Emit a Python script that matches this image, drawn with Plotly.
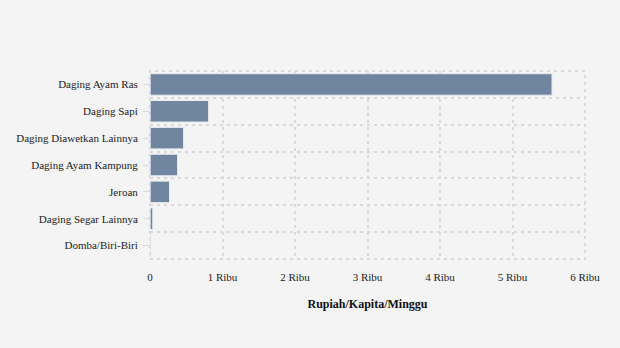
import plotly.graph_objects as go

categories = ["Daging Ayam Ras", "Daging Sapi", "Daging Diawetkan Lainnya",
              "Daging Ayam Kampung", "Jeroan", "Daging Segar Lainnya", "Domba/Biri-Biri"]
values = [5545, 808, 463, 380, 269, 38, 12]
tick_vals = [0, 1000, 2000, 3000, 4000, 5000, 6000]
tick_text = ["0", "1 Ribu", "2 Ribu", "3 Ribu", "4 Ribu", "5 Ribu", "6 Ribu"]
x_title = "Rupiah/Kapita/Minggu"

font_family = "Liberation Serif"
grid_color = "#dadada"
grid_dash = "3px,4px"

fig = go.Figure()
fig.add_trace(go.Bar(
    y=categories, x=values, orientation="h",
    marker=dict(color="#7085a0", line=dict(color="#e8ebef", width=1)),
    width=0.8, hoverinfo="x+y", showlegend=False,
))
# invisible helper trace providing boundary gridlines
fig.add_trace(go.Bar(
    y=categories, x=[0] * len(categories), orientation="h",
    yaxis="y2", marker=dict(color="rgba(0,0,0,0)"), hoverinfo="skip", showlegend=False,
))

fig.update_layout(
    width=620, height=348,
    paper_bgcolor="#f4f4f4", plot_bgcolor="#f4f4f4",
    margin=dict(l=150, r=35, t=71, b=89),
    font=dict(family=font_family, size=11, color="#222"),
    barmode="overlay",
    xaxis=dict(
        range=[0, 6000], tickvals=tick_vals, ticktext=tick_text,
        showgrid=True, gridcolor=grid_color, griddash=grid_dash, gridwidth=2,
        zeroline=False, showline=False, ticks="outside", ticklen=8,
        tickcolor="rgba(0,0,0,0)",
        tickfont=dict(family=font_family, size=11, color="#222"),
        title=dict(text="<b>" + x_title + "</b>", font=dict(family=font_family, size=12, color="#111"),
                   standoff=17),
        fixedrange=True,
    ),
    yaxis=dict(
        type="category", categoryorder="array", categoryarray=categories,
        autorange="reversed",
        showgrid=False, zeroline=False, showline=False,
        ticks="outside", ticklen=6, tickcolor="#dcdcdc", tickwidth=1,
        ticklabelstandoff=3,
        tickfont=dict(family=font_family, size=11, color="#222"),
        fixedrange=True,
    ),
    yaxis2=dict(
        type="category", categoryorder="array", categoryarray=categories,
        overlaying="y", matches="y", side="left",
        showgrid=True, gridcolor=grid_color, griddash=grid_dash, gridwidth=2,
        tickson="boundaries", showticklabels=False, ticks="",
        zeroline=False, showline=False, fixedrange=True,
    ),
    shapes=[dict(type="rect", xref="paper", yref="paper", x0=0, x1=1, y0=0, y1=1,
                 line=dict(color=grid_color, width=2, dash=grid_dash), layer="below")],
)

fig.write_html("out.html")
